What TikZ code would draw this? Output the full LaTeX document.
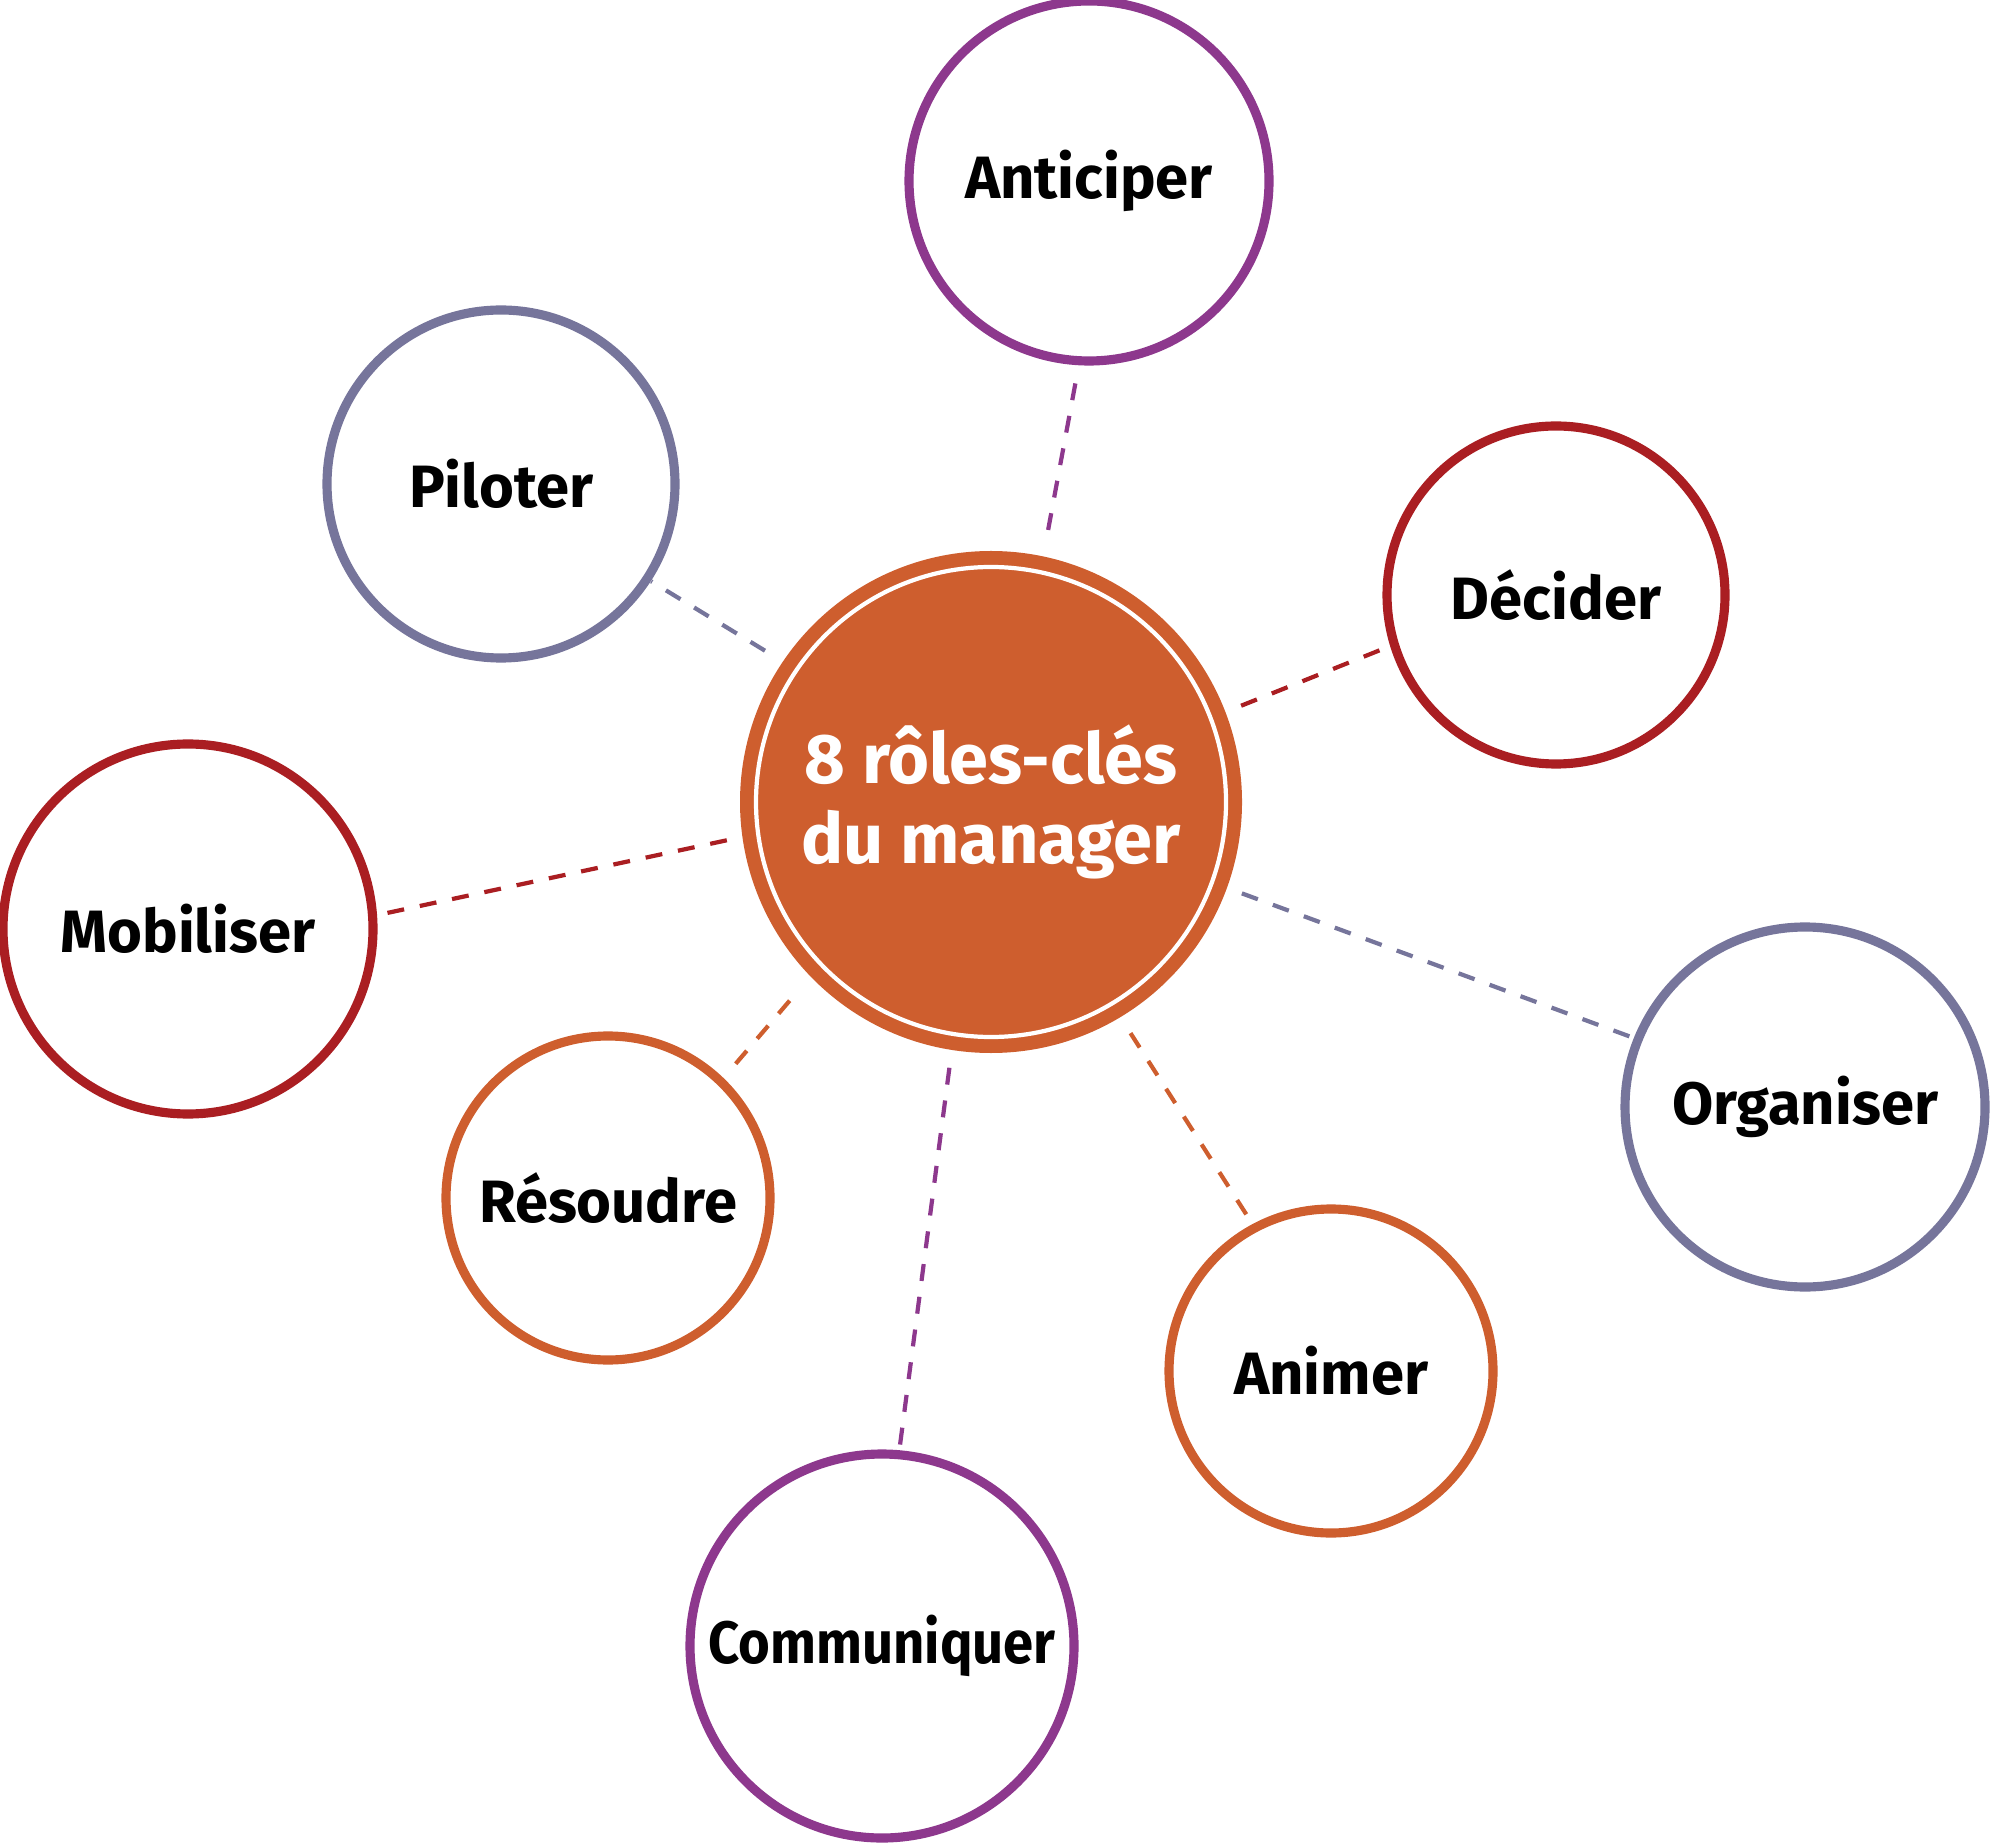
\documentclass[tikz,border=0pt]{standalone}
\usepackage{fontspec}
\setmainfont{Fira Sans}
\usetikzlibrary{calc}
\definecolor{rpurple}{RGB}{141,56,141}
\definecolor{rgrey}{RGB}{118,117,155}
\definecolor{rred}{RGB}{170,30,34}
\definecolor{rorange}{RGB}{206,94,46}
\tikzset{
  role/.style = {draw, circle, line width=2.6pt, fill=white, inner sep=0pt,
                 outer sep=0pt, font=\fontsize{17}{20}\selectfont\bfseries},
  hub/.style  = {circle, fill=rorange, inner sep=0pt, outer sep=0pt,
                 minimum size=5.02cm, text=white, align=center,
                 font=\fontsize{20}{23}\selectfont\bfseries},
  ring/.style = {white, line width=1.2pt},
  link/.style = {dash pattern=on 0.17cm off 0.16cm, line width=1.2pt}
}

\begin{document}
\begin{tikzpicture}
  \useasboundingbox (0,0) rectangle (19.9,-18.43);
  % ---- centre ----
  \node[hub] (hub) at (9.91,-8.02) {8 rôles-clés\\du manager};
  \draw[ring] (hub.center) circle[radius=2.35cm];
  % ---- the eight roles ----
  \node[role, draw=rpurple, minimum size=3.60cm] (ant) at (10.89,-1.81) {Anticiper};
  \node[role, draw=rgrey,   minimum size=3.48cm] (pil) at (5.01,-4.84)  {Piloter};
  \node[role, draw=rred,    minimum size=3.38cm] (dec) at (15.56,-5.95) {Décider};
  \node[role, draw=rred,    minimum size=3.70cm] (mob) at (1.88,-9.29)  {Mobiliser};
  \node[role, draw=rgrey,   minimum size=3.60cm] (org) at (18.05,-11.07) {Organiser};
  \node[role, draw=rorange, minimum size=3.24cm] (res) at (6.08,-11.98) {Résoudre};
  \node[role, draw=rorange, minimum size=3.24cm] (ani) at (13.31,-13.71) {Animer};
  \node[role, draw=rpurple, minimum size=3.84cm] (com) at (8.82,-16.46)
    {\addfontfeature{FakeStretch=0.91}Communiquer};
  % ---- dashed links ----
  \draw[link, rpurple, shorten <=0.27cm, shorten >=0.16cm] (hub.78.4)  -- (ant.267.7);
  \draw[link, rgrey,   shorten <=0.21cm, shorten >=0.05cm] (hub.146.5) -- (pil.327);
  \draw[link, rred,    shorten <=0.17cm, shorten >=0.03cm] (hub.21.9)  -- (dec.197);
  \draw[link, rred,    shorten <=0.16cm, shorten >=0.05cm] (hub.188.8) -- (mob.4.5);
  \draw[link, rgrey,   shorten <=0.16cm, shorten >=0.01cm] (hub.340)   -- (org.158.7);
  \draw[link, rorange, shorten <=0.32cm, shorten >=0.19cm] (hub.224.6) -- (res.46.8);
  \draw[link, rorange, shorten <=0.19cm, shorten >=0.01cm] (hub.301.5) -- (ani.118.6);
  \draw[link, rpurple, shorten <=0.18cm, shorten >=0.08cm] (hub.261.2) -- (com.85.4);
\end{tikzpicture}
\end{document}
